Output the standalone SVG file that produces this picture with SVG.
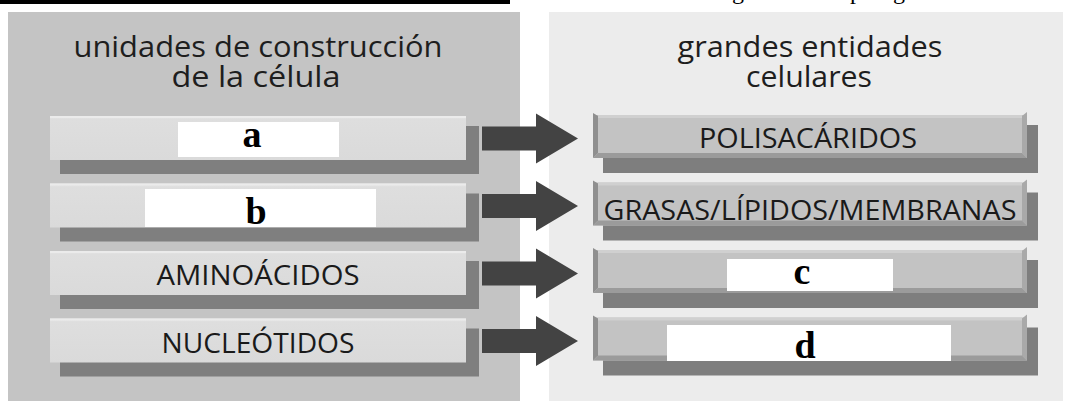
<svg xmlns="http://www.w3.org/2000/svg" xmlns:xlink="http://www.w3.org/1999/xlink" width="1066" height="401" viewBox="0 0 1066 401">
  <style>
    .title { font-family: "Open Sans", "Noto Sans", "Liberation Sans", sans-serif; font-size: 30px; fill: #1e1e1e; text-anchor: middle; }
    .llab { font-family: "Open Sans", "Noto Sans", "Liberation Sans", sans-serif; font-size: 27px; fill: #1a1a1a; text-anchor: middle; }
    .rlab { font-family: "Open Sans", "Noto Sans", "Liberation Sans", sans-serif; font-size: 28px; fill: #1a1a1a; text-anchor: middle; }
    .key { font-family: "Liberation Serif", "Times New Roman", serif; font-size: 38px; font-weight: bold; fill: #000; text-anchor: middle; }
    .frag { font-family: "Liberation Serif", "Times New Roman", serif; font-size: 24px; fill: #000; }
    .blank { fill: #ffffff; }
    .arrow { fill: #434343; }
  </style>
  <defs>
    <linearGradient id="lface" x1="0" y1="0" x2="0" y2="1">
      <stop offset="0" stop-color="#e6e6e6"/>
      <stop offset="0.08" stop-color="#dedede"/>
      <stop offset="1" stop-color="#dadada"/>
    </linearGradient>
    <g id="lbox">
      <rect x="60" y="10" width="419" height="48" fill="#7f7f7f"/>
      <rect x="50" y="0" width="416" height="44" fill="url(#lface)"/>
      <rect x="50" y="0" width="416" height="2" fill="#ebebeb"/>
    </g>
    <g id="rbox">
      <rect x="603" y="10" width="435" height="48" fill="#7e7e7e"/>
      <rect x="593" y="0" width="434" height="43" fill="#c3c3c3"/>
      <rect x="598" y="0" width="424" height="3" fill="#d0d0d0"/>
      <polygon points="593,-2 598,1 598,38 593,43" fill="#8f8f8f"/>
      <polygon points="1022,1 1027,-3 1027,43 1022,38" fill="#a9a9a9"/>
      <polygon points="593,43 598,38 1022,38 1027,43" fill="#9b9b9b"/>
    </g>
    <polygon id="arr" points="482,-12 536,-12 536,-25 578,0 536,25 536,12 482,12"/>
  </defs>

  <rect x="0" y="0" width="1066" height="401" fill="#ffffff"/>

  <!-- page fragments -->
  <rect x="0" y="0" width="510" height="4" fill="#000000"/>
  <text class="frag" x="732" y="-1">g</text>
  <text class="frag" x="850" y="-1">p</text>
  <text class="frag" x="893" y="-1">g</text>

  <!-- panels -->
  <g id="panel-left">
    <rect x="8" y="12" width="512" height="389" fill="#c4c4c4"/>
    <text class="title" x="258" y="57" textLength="369" lengthAdjust="spacingAndGlyphs">unidades de construcción</text>
    <text class="title" x="256" y="87" textLength="169" lengthAdjust="spacingAndGlyphs">de la célula</text>
  </g>
  <g id="panel-right">
    <rect x="549" y="12" width="514" height="389" fill="#ececec"/>
    <text class="title" x="810" y="57" textLength="265" lengthAdjust="spacingAndGlyphs">grandes entidades</text>
    <text class="title" x="809" y="87" textLength="126" lengthAdjust="spacingAndGlyphs">celulares</text>
  </g>

  <!-- left nodes -->
  <g id="node-a">
    <use xlink:href="#lbox" href="#lbox" y="116"/>
    <rect class="blank" x="178" y="122" width="161" height="35"/>
    <text class="key" x="252" y="147">a</text>
  </g>
  <g id="node-b">
    <use xlink:href="#lbox" href="#lbox" y="183.5"/>
    <rect class="blank" x="145" y="189" width="231" height="38"/>
    <text class="key" x="256" y="224">b</text>
  </g>
  <g id="node-aminoacidos">
    <use xlink:href="#lbox" href="#lbox" y="251"/>
    <text class="llab" x="258" y="285" textLength="203" lengthAdjust="spacingAndGlyphs">AMINOÁCIDOS</text>
  </g>
  <g id="node-nucleotidos">
    <use xlink:href="#lbox" href="#lbox" y="318.5"/>
    <text class="llab" x="258" y="353" textLength="193" lengthAdjust="spacingAndGlyphs">NUCLEÓTIDOS</text>
  </g>

  <!-- right nodes -->
  <g id="node-polisacaridos">
    <use xlink:href="#rbox" href="#rbox" y="115"/>
    <text class="rlab" x="808" y="148" textLength="218" lengthAdjust="spacingAndGlyphs">POLISACÁRIDOS</text>
  </g>
  <g id="node-grasas">
    <use xlink:href="#rbox" href="#rbox" y="182.5"/>
    <text class="rlab" x="810" y="220" textLength="413" lengthAdjust="spacingAndGlyphs">GRASAS/LÍPIDOS/MEMBRANAS</text>
  </g>
  <g id="node-c">
    <use xlink:href="#rbox" href="#rbox" y="250"/>
    <rect class="blank" x="727" y="259" width="166" height="32"/>
    <text class="key" x="802" y="284">c</text>
  </g>
  <g id="node-d">
    <use xlink:href="#rbox" href="#rbox" y="317.5"/>
    <rect class="blank" x="667" y="325" width="284" height="36"/>
    <text class="key" x="805" y="358">d</text>
  </g>

  <!-- connectors -->
  <g id="connectors" class="arrow">
    <use xlink:href="#arr" href="#arr" y="138.5"/>
    <use xlink:href="#arr" href="#arr" y="206"/>
    <use xlink:href="#arr" href="#arr" y="273.5"/>
    <use xlink:href="#arr" href="#arr" y="341"/>
  </g>
</svg>
